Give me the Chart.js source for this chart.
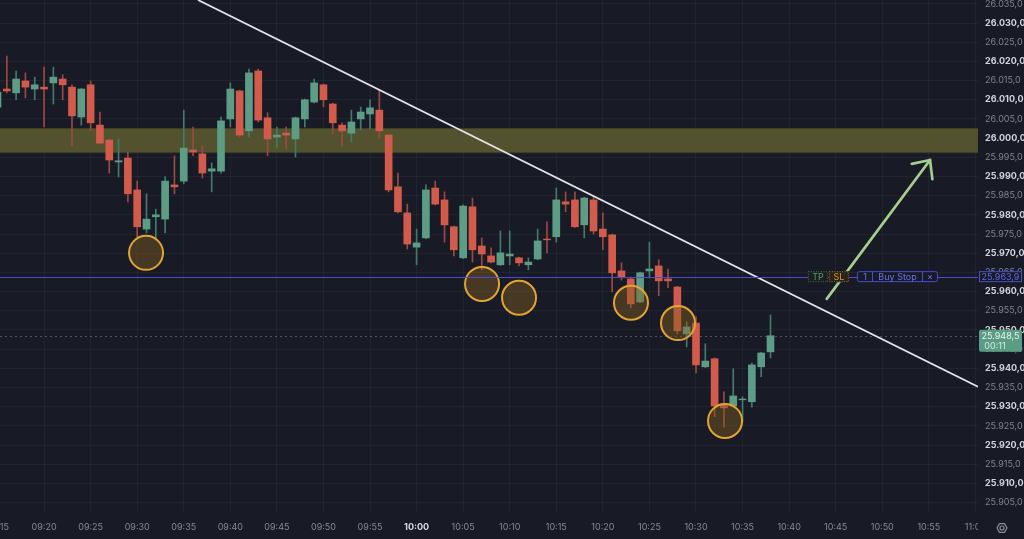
<!DOCTYPE html>
<html><head><meta charset="utf-8">
<script src="https://cdn.jsdelivr.net/npm/chart.js@4.4.0/dist/chart.umd.min.js"></script>
<style>html,body{margin:0;padding:0;background:#181b26;overflow:hidden}#wrap{width:1024px;height:539px}</style>
</head><body><div id="wrap"><canvas id="c" width="1024" height="539"></canvas></div>
<script>
// ---- data (1-minute candles) ----
const times=['09:15','09:16','09:17','09:18','09:19','09:20','09:21','09:22','09:23','09:24','09:25','09:26','09:27','09:28','09:29','09:30','09:31','09:32','09:33','09:34','09:35','09:36','09:37','09:38','09:39','09:40','09:41','09:42','09:43','09:44','09:45','09:46','09:47','09:48','09:49','09:50','09:51','09:52','09:53','09:54','09:55','09:56','09:57','09:58','09:59','10:00','10:01','10:02','10:03','10:04','10:05','10:06','10:07','10:08','10:09','10:10','10:11','10:12','10:13','10:14','10:15','10:16','10:17','10:18','10:19','10:20','10:21','10:22','10:23','10:24','10:25','10:26','10:27','10:28','10:29','10:30','10:31','10:32','10:33','10:34','10:35','10:36','10:37','10:38'];
const open=[26008.1,26012.8,26011.8,26014.9,26012.8,26013.3,26014.4,26015.4,26013.3,26005.5,26013.9,26003.4,25999.5,25993.8,25994.8,25986.5,25976.3,25979.5,25978.9,25987.8,25988.8,25996.9,25995.9,25991.4,25991.4,26005.0,26012.3,26001.9,26017.5,26005.3,26000.3,26001.3,25999.8,26005.0,26009.4,26013.9,26008.9,26003.4,26001.3,26005.0,26006.3,26007.3,26000.8,25987.3,25980.5,25971.6,25974.0,25987.0,25983.9,25976.9,25968.8,25982.1,25971.9,25969.3,25967.0,25969.3,25968.8,25967.0,25968.5,25973.7,25974.3,25983.4,25983.9,25977.4,25983.9,25976.3,25974.8,25965.4,25963.3,25957.3,25965.4,25966.7,25963.3,25961.2,25949.0,25951.8,25940.4,25942.5,25930.7,25930.2,25931.8,25931.3,25940.4,25944.3];
const high=[26013.6,26021.4,26017.5,26017.0,26015.9,26018.5,26018.5,26016.5,26013.9,26013.0,26014.9,26006.8,25999.7,25999.8,25996.4,25988.8,25985.5,25981.5,25989.9,25995.4,26007.3,26002.9,25998.0,25993.5,26005.5,26014.4,26012.5,26018.0,26018.0,26006.6,26002.9,26002.9,26005.5,26010.2,26015.4,26014.1,26009.1,26004.0,26007.3,26008.1,26010.0,26012.5,26001.0,25990.9,25982.8,25976.3,25987.8,25988.8,25986.0,25977.1,25982.6,25984.4,25974.0,25971.4,25975.8,25975.8,25969.0,25968.8,25976.3,25978.2,25987.0,25986.0,25986.0,25984.6,25984.7,25980.5,25975.0,25967.5,25963.8,25965.1,25972.9,25968.3,25965.9,25961.4,25952.1,25953.4,25946.4,25942.7,25933.9,25939.9,25932.6,25941.4,25944.2,25953.9];
const low=[26007.3,26011.8,26010.0,26010.5,26010.0,26002.9,26008.9,26010.0,25998.0,26003.4,26001.9,25998.5,25990.9,25989.9,25983.4,25974.3,25975.3,25973.5,25975.3,25985.5,25988.1,25995.4,25989.6,25986.0,25990.9,26002.9,26000.3,26000.3,26004.2,25995.4,25997.4,25997.2,25995.1,26002.9,26009.2,26008.1,26001.1,25998.0,25999.0,26002.1,26002.4,26000.0,25986.0,25980.5,25971.1,25967.0,25973.8,25982.6,25972.9,25969.3,25968.6,25967.7,25965.7,25967.5,25966.8,25967.0,25966.7,25965.7,25968.3,25970.1,25972.9,25980.8,25976.7,25974.0,25975.0,25970.9,25959.9,25963.0,25955.8,25957.1,25963.6,25958.9,25961.0,25949.0,25945.6,25938.8,25940.2,25927.4,25924.7,25930.0,25926.0,25929.9,25937.8,25942.7];
const close=[26012.0,26012.3,26015.4,26013.3,26013.9,26012.8,26015.9,26013.9,26005.8,26012.8,26004.0,25998.7,25994.3,25994.1,25985.5,25976.9,25978.9,25980.0,25988.8,25987.3,25997.4,25996.4,25990.9,25992.0,26004.5,26012.8,26000.8,26017.0,26004.7,25999.8,26000.8,26000.8,26005.3,26010.0,26014.4,26010.0,26004.0,26001.9,26004.2,26006.8,26007.9,26001.9,25986.5,25980.8,25972.4,25972.7,25986.5,25982.8,25977.4,25970.9,25982.3,25970.9,25969.8,25967.7,25970.1,25969.8,25967.5,25967.7,25973.2,25973.5,25983.9,25982.8,25976.9,25984.4,25975.8,25974.3,25964.9,25963.8,25956.8,25964.9,25965.9,25962.8,25962.8,25949.8,25950.8,25940.9,25941.9,25930.2,25929.7,25932.8,25932.0,25940.9,25944.0,25948.5];
const yTicks=[25905,25910,25915,25920,25925,25930,25935,25940,25945,25950,25955,25960,25965,25970,25975,25980,25985,25990,25995,26000,26005,26010,26015,26020,26025,26030,26035];
const xTickMinutes=[0,5,10,15,20,25,30,35,40,45,50,55,60,65,70,75,80,85,90,95,100,105];
const xTickLabels=['09:15','09:20','09:25','09:30','09:35','09:40','09:45','09:50','09:55','10:00','10:05','10:10','10:15','10:20','10:25','10:30','10:35','10:40','10:45','10:50','10:55','11:00'];
// annotations (data coordinates: minutes since 09:15, price)
const zoneLow=25996.1, zoneHigh=26002.6;
const orderPrice=25963.9, orderQty='1', orderType='Buy Stop';
const lastPrice=25948.5, countdown='00:11';
const trendLine=[{x:21.53,y:26036.0},{x:105.28,y:25935.2}];
const arrowShaft=[{x:89.04,y:25958.1},{x:100.13,y:25994.3}];
const arrowHead=[{x:98.17,y:25993.3},{x:100.13,y:25994.3},{x:100.38,y:25989.3}];
const markers=[{x:15.95,y:25970.1},{x:52.03,y:25962.0},{x:56.0,y:25958.4},{x:68.02,y:25957.1},{x:73.07,y:25951.8},{x:78.12,y:25926.3}];

// ---- styling ----
const BG='#181b26', UP='#5d9d86', DN='#d25b4b', UPW='#447a6b', DNW='#9a4a42';
const FONT='Inter, "Noto Sans", sans-serif';
const fmt=v=>{const r=Math.round(v*10)/10;const ip=Math.floor(r);const dec=Math.round((r-ip)*10);const th=Math.floor(ip/1000);const rest=String(ip%1000).padStart(3,'0');return (th>0?th+'.'+rest:String(ip%1000))+','+dec;};

const isUp=open.map((o,i)=>close[i]>=o);
const wickData=times.map((t,i)=>({x:i,y:[low[i],high[i]]}));
const bodyData=times.map((t,i)=>({x:i,y:[Math.min(open[i],close[i]),Math.max(open[i],close[i])]}));

const overlay={id:'overlay',
 beforeDraw(c){const g=c.ctx;g.save();g.fillStyle=BG;g.fillRect(0,0,c.width,c.height);g.restore();},
 beforeDatasetsDraw(c){const g=c.ctx,a=c.chartArea,y=c.scales.y;g.save();
  const y1=y.getPixelForValue(zoneHigh),y2=y.getPixelForValue(zoneLow);
  g.fillStyle='#53522f';g.fillRect(a.left,y1,a.right-a.left,y2-y1);
  g.strokeStyle='#3e3d26';g.lineWidth=1;g.beginPath();g.moveTo(a.left,Math.round(y1)+0.5);g.lineTo(a.right,Math.round(y1)+0.5);g.moveTo(a.left,Math.round(y2)-0.5);g.lineTo(a.right,Math.round(y2)-0.5);g.stroke();
  const yl=Math.round(y.getPixelForValue(lastPrice))+0.5;g.strokeStyle='rgba(150,155,165,0.45)';g.setLineDash([2,3]);g.beginPath();g.moveTo(a.left,yl);g.lineTo(a.right,yl);g.stroke();g.restore();},
 afterDatasetsDraw(c){const g=c.ctx,a=c.chartArea,y=c.scales.y;g.save();const yo=Math.round(y.getPixelForValue(orderPrice))+0.5;
  g.strokeStyle='#4d4dd2';g.lineWidth=1;g.beginPath();g.moveTo(a.left,yo);g.lineTo(a.right,yo);g.stroke();g.restore();},
 afterDraw(c){const g=c.ctx,a=c.chartArea,y=c.scales.y,R=a.right;g.save();
  // cover bottom-right corner
  g.fillStyle=BG;g.fillRect(R,a.bottom,c.width-R,c.height-a.bottom);
  // gear
  g.strokeStyle='#8a8e99';g.lineWidth=1.2;g.beginPath();
  for(let k=0;k<6;k++){const an=k*Math.PI/3;const px=R+24+Math.cos(an)*5,py=a.bottom+15+Math.sin(an)*5;k?g.lineTo(px,py):g.moveTo(px,py);}g.closePath();g.stroke();
  g.beginPath();g.arc(R+24,a.bottom+15,2,0,Math.PI*2);g.stroke();
  const yo=y.getPixelForValue(orderPrice);
  g.font='9px '+FONT;g.textBaseline='middle';g.textAlign='center';
  // TP / SL boxes
  g.setLineDash([1,1.5]);
  g.fillStyle='#1b201f';g.fillRect(R-170,yo-5.5,20,11);g.strokeStyle='#4a5a48';g.strokeRect(R-169.5,yo-5,19,10);
  g.fillStyle='#2a2418';g.fillRect(R-149,yo-5.5,20,11);g.strokeStyle='#7a6030';g.strokeRect(R-148.5,yo-5,19,10);
  g.setLineDash([]);
  g.fillStyle='#4f9e7e';g.fillText('TP',R-160,yo+0.5);
  g.fillStyle='#d4962e';g.fillText('SL',R-139,yo+0.5);
  // buy stop box
  g.fillStyle=BG;g.beginPath();g.roundRect(R-120.5,yo-5,80,10,2);g.fill();
  g.strokeStyle='#4a4ccc';g.lineWidth=1;g.stroke();
  g.beginPath();g.moveTo(R-105.5,yo-5);g.lineTo(R-105.5,yo+5);g.moveTo(R-55.5,yo-5);g.lineTo(R-55.5,yo+5);g.stroke();
  g.fillStyle='#6c72ea';g.fillText(orderQty,R-113,yo+0.5);g.fillText(orderType,R-80.5,yo+0.5);g.fillText('\u00d7',R-48,yo+0.5);
  // axis order label
  g.fillStyle=BG;g.fillRect(R+1,yo-5.5,43,11);g.strokeStyle='#4a4ccc';g.strokeRect(R+1.5,yo-5,42,10);
  g.fillStyle='#6068e6';g.fillText(fmt(orderPrice),R+22.5,yo+0.5);
  // last price label
  const yl=y.getPixelForValue(lastPrice);
  g.fillStyle='#5b9c84';g.beginPath();g.roundRect(R+1,yl-6,43,22,2);g.fill();
  g.fillStyle='#eaf4ef';g.fillText(fmt(lastPrice),R+22.5,yl+0.5);g.fillStyle='#d6ebe2';g.fillText(countdown,R+17,yl+11);
  g.restore();}
};

new Chart(document.getElementById('c'),{
 type:'bar',
 data:{datasets:[
  {type:'bubble',data:markers.map(m=>({x:m.x,y:m.y,r:17})),backgroundColor:'rgba(135,98,30,0.42)',borderColor:'#e3a433',borderWidth:2,hoverRadius:0,order:-3},
  {type:'line',data:arrowShaft,borderColor:'#a6cf8f',borderWidth:2.7,pointRadius:0,borderCapStyle:'round',order:-2},
  {type:'line',data:arrowHead,borderColor:'#a6cf8f',borderWidth:2.7,pointRadius:0,borderCapStyle:'round',borderJoinStyle:'miter',tension:0,order:-2},
  {type:'line',data:trendLine,borderColor:'#e4e5ea',borderWidth:1.8,pointRadius:0,order:-1},
  {type:'bar',data:bodyData,backgroundColor:isUp.map(u=>u?UP:DN),barThickness:7,grouped:false,borderWidth:0,borderSkipped:false,order:0},
  {type:'bar',data:wickData,backgroundColor:isUp.map(u=>u?UPW:DNW),barThickness:1,grouped:false,borderWidth:0,borderSkipped:false,order:1}
 ]},
 options:{responsive:false,animation:false,devicePixelRatio:1,
  layout:{padding:0,autoPadding:false},
  plugins:{legend:{display:false},tooltip:{enabled:false}},
  scales:{
   x:{type:'linear',min:0.27,max:105.28,offset:false,position:'bottom',
    grid:{color:'rgba(255,255,255,0.045)',drawTicks:false,offset:false},border:{display:false},
    afterBuildTicks:s=>{s.ticks=xTickMinutes.map(v=>({value:v}));},
    afterFit:s=>{s.height=26;s.paddingLeft=0;s.paddingRight=0;s.paddingTop=0;s.paddingBottom=0;},
    ticks:{autoSkip:false,maxRotation:0,padding:9,
     callback:v=>{const k=xTickMinutes.indexOf(v);return k>=0?xTickLabels[k]:'';},
     color:ctx=>xTickLabels[ctx.index]==='10:00'?'#d9dbe2':'#858a96',
     font:ctx=>({family:FONT,size:9,weight:xTickLabels[ctx.index]==='10:00'?'bold':'normal'})}},
   y:{type:'linear',position:'right',min:25902.3,max:26036.0,
    grid:{color:'rgba(255,255,255,0.045)',drawTicks:false},border:{display:false},
    afterBuildTicks:s=>{s.ticks=yTicks.map(v=>({value:v}));},
    afterFit:s=>{s.width=46;s.paddingLeft=0;s.paddingRight=0;s.paddingTop=0;s.paddingBottom=0;},
    ticks:{padding:7,callback:v=>fmt(v),
     color:ctx=>(ctx.tick&&ctx.tick.value%10===0)?'#d3d5dc':'#7f8490',
     font:ctx=>({family:FONT,size:9,weight:(ctx.tick&&ctx.tick.value%10===0)?'bold':'normal'})}}
  }},
 plugins:[overlay]
});
</script></body></html>
